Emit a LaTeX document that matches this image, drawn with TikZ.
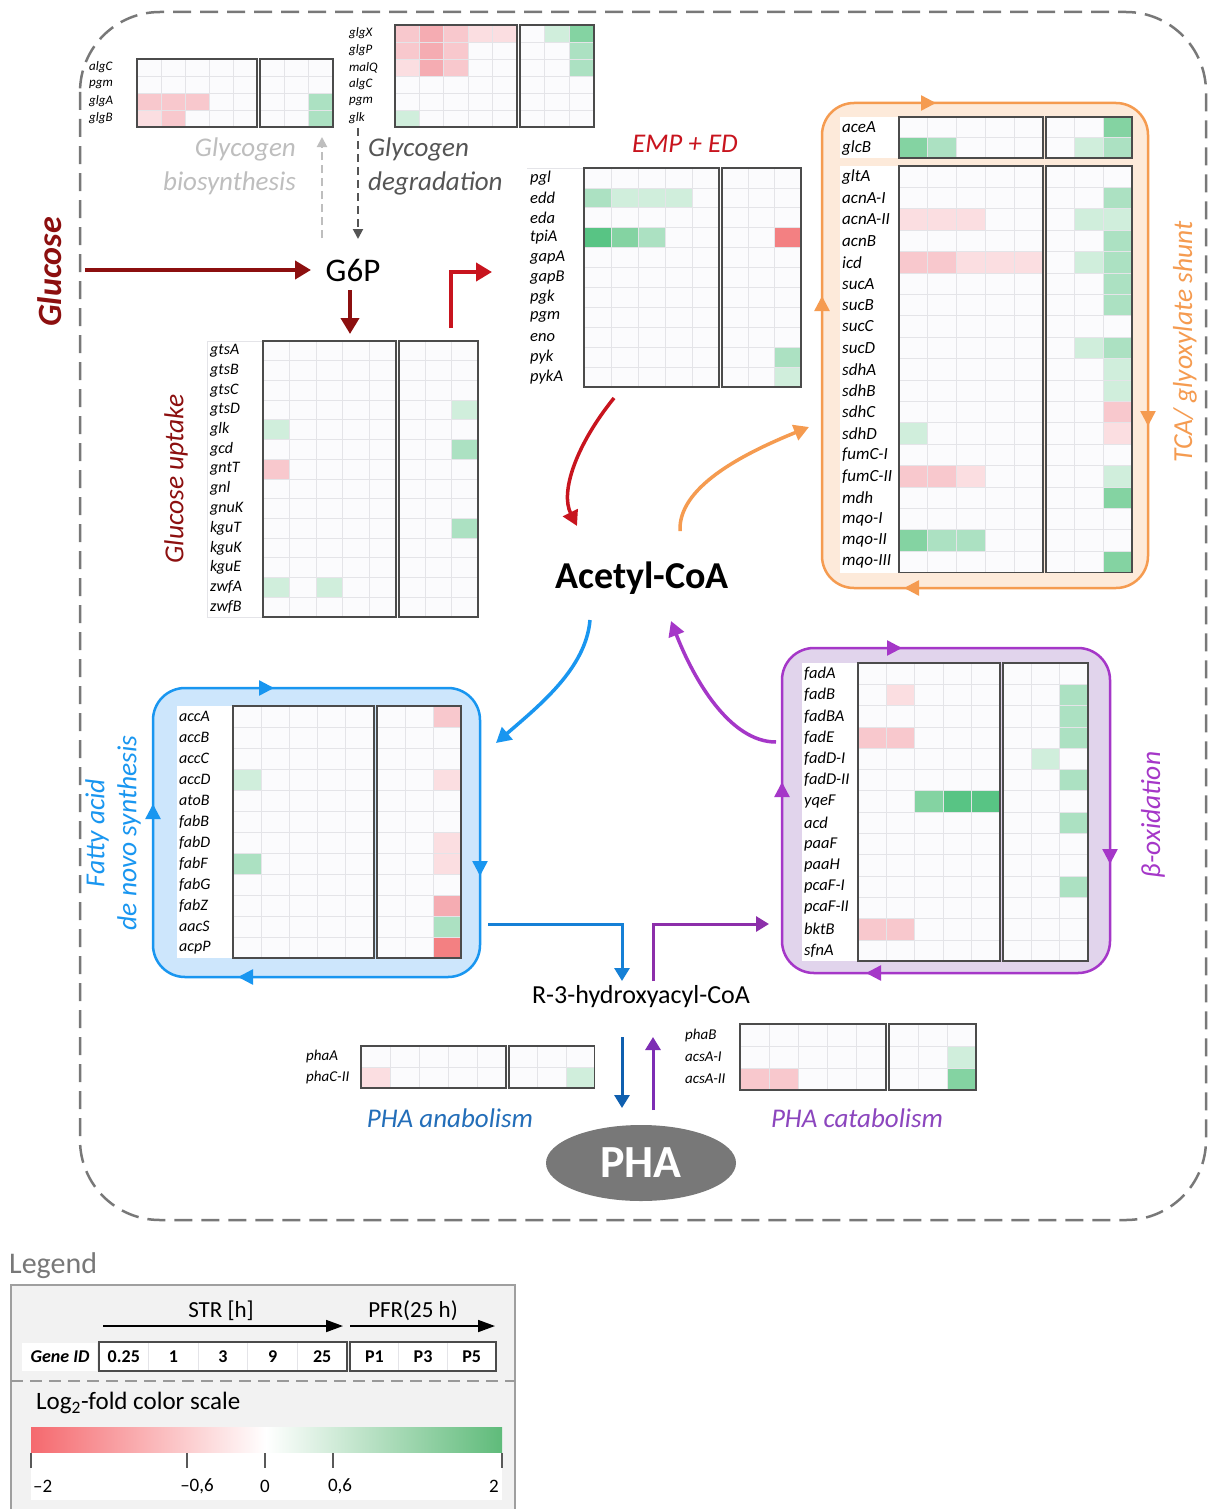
\documentclass[tikz,border=0pt]{standalone}
\usepackage{fontspec}
\setmainfont{Carlito}
\usetikzlibrary{arrows.meta,shapes.geometric}

\definecolor{W}{RGB}{251,251,253}
\definecolor{R1}{RGB}{251,222,225}
\definecolor{R2}{RGB}{248,200,205}
\definecolor{R3}{RGB}{245,172,178}
\definecolor{R4}{RGB}{243,128,130}
\definecolor{G1}{RGB}{208,238,220}
\definecolor{G2}{RGB}{172,225,194}
\definecolor{G3}{RGB}{132,211,162}
\definecolor{G4}{RGB}{88,196,132}
\definecolor{gridc}{RGB}{228,228,232}
\definecolor{bordc}{RGB}{75,75,75}
\definecolor{darkredC}{RGB}{140,15,15}
\definecolor{empred}{RGB}{200,20,30}
\definecolor{orangeC}{RGB}{245,155,80}
\definecolor{orangeF}{RGB}{253,234,218}
\definecolor{blueC}{RGB}{25,150,240}
\definecolor{blueF}{RGB}{205,230,252}
\definecolor{purpleC}{RGB}{165,55,200}
\definecolor{purpleF}{RGB}{225,212,236}
\definecolor{anablue}{RGB}{15,95,175}
\definecolor{anatext}{RGB}{35,110,185}
\definecolor{catpurple}{RGB}{125,45,180}
\definecolor{cattext}{RGB}{140,70,190}
\definecolor{pathgray}{RGB}{120,120,120}
\definecolor{biogray}{RGB}{190,190,190}
\definecolor{deggray}{RGB}{85,85,85}
\definecolor{legbg}{RGB}{242,242,242}
\definecolor{scalered}{RGB}{245,105,110}
\definecolor{scalegreen}{RGB}{95,187,122}

\def\hfont{\fontsize{15}{15}\selectfont\itshape}

\tikzset{
  hcell/.style={draw=gridc, line width=0.8pt},
  hbord/.style={draw=bordc, line width=1.6pt},
  genelab/.style={font=\hfont, inner sep=0pt, anchor=west},
  pmark/.style={-{Triangle[length=15pt,width=15pt]}, line width=2.5pt},
  thickarr/.style={-{Triangle[length=16pt,width=18pt]}, line width=4pt},
  pathbox/.style={rounded corners=32pt, line width=2.5pt},
  rottitle/.style={rotate=90, font=\fontsize{27.5}{27.5}\selectfont\itshape, inner sep=0pt},
  headtitle/.style={font=\fontsize{27}{27}\selectfont\itshape, inner sep=0pt},
}

% #1 name, #2 x0, #3 y0, #4 left cell width, #5 right cell width, #6 row height, #7 rows, #8 label x, #9 data
\newcommand{\hmap}[9]{%
  \foreach \lab/\qa/\qb/\qc/\qd/\qe/\qf/\qg/\qh [count=\i] in {#9}{%
    \pgfmathsetmacro{\yy}{#3+(\i-1)*#6}%
    \foreach \qq [count=\j] in {\qa,\qb,\qc,\qd,\qe}{%
      \path[hcell,fill=\qq] ({#2+(\j-1)*#4},\yy) rectangle ++(#4,#6);}%
    \foreach \qq [count=\j] in {\qf,\qg,\qh}{%
      \path[hcell,fill=\qq] ({#2+5*#4+3+(\j-1)*#5},\yy) rectangle ++(#5,#6);}%
    \node[genelab] (#1-\i) at (#8,{\yy+#6/2}) {\lab};
  }%
  \draw[hbord] (#2,#3) rectangle ++({5*#4},{#7*#6});
  \draw[hbord] ({#2+5*#4+3},#3) rectangle ++({3*#5},{#7*#6});
}

\begin{document}
\begin{tikzpicture}[x=1pt,y=-1pt]
\useasboundingbox (0,0) rectangle (1207,1509);
\fill[white] (0,0) rectangle (1207,1509);

% cell border
\draw[pathgray, line width=2.5pt, dash pattern=on 18pt off 9pt, rounded corners=80pt] (80,12) rectangle (1206,1220);

% pathway boxes
\draw[pathbox, draw=orangeC, fill=orangeF] (822,103) rectangle (1148,588);
\draw[pathbox, draw=blueC, fill=blueF] (153,688) rectangle (480,977);
\draw[pathbox, draw=purpleC, fill=purpleF] (782,648) rectangle (1110,973);

\draw[pmark, orangeC] (922,103) -- (936,103);
\draw[pmark, orangeC] (822,310) -- (822,296);
\draw[pmark, orangeC] (1148,412) -- (1148,426);
\draw[pmark, orangeC] (918,588) -- (904,588);
\draw[pmark, blueC] (260,688) -- (274,688);
\draw[pmark, blueC] (153,818) -- (153,804);
\draw[pmark, blueC] (480,862) -- (480,876);
\draw[pmark, blueC] (252,977) -- (238,977);
\draw[pmark, purpleC] (888,648) -- (902,648);
\draw[pmark, purpleC] (782,796) -- (782,782);
\draw[pmark, purpleC] (1110,850) -- (1110,864);
\draw[pmark, purpleC] (880,973) -- (866,973);

% label backgrounds
\fill[white] (527,168) rectangle (584,387);
\draw[gridc, line width=1pt] (527,168) -- (584,168);
\draw[fill=white, draw=gridc] (207,341) rectangle (263,617);
\fill[white] (840,117) rectangle (899,158);
\fill[white] (840,166) rectangle (899,573);
\fill[white] (177,706) rectangle (233,958);
\fill[white] (802,663) rectangle (858,961);

% heatmaps
\def\hfont{\fontsize{13}{13}\selectfont\itshape}
\hmap{gb}{137}{59}{24}{24.3}{17}{4}{89}{
algC/W/W/W/W/W/W/W/W, pgm/W/W/W/W/W/W/W/W,
glgA/R2/R2/R2/W/W/W/W/G2, glgB/R1/R2/W/W/W/W/W/G2}
\hmap{gd}{395}{25}{24.4}{24.7}{17}{6}{349}{
glgX/R2/R3/R2/R1/R1/W/G1/G3, glgP/R2/R3/R2/W/W/W/W/G2,
malQ/R1/R3/R2/W/W/W/W/G2, algC/W/W/W/W/W/W/W/W,
pgm/W/W/W/W/W/W/W/W, glk/G1/W/W/W/W/W/W/W}

\def\hfont{\fontsize{16.5}{16.5}\selectfont\itshape}
\hmap{emp}{584}{168}{27}{26.3}{19.9}{11}{530}{
pgl/W/W/W/W/W/W/W/W, edd/G2/G1/G1/G1/W/W/W/W, eda/W/W/W/W/W/W/W/W,
tpiA/G4/G3/G2/W/W/W/W/R4, gapA/W/W/W/W/W/W/W/W, gapB/W/W/W/W/W/W/W/W,
pgk/W/W/W/W/W/W/W/W, pgm/W/W/W/W/W/W/W/W, eno/W/W/W/W/W/W/W/W,
pyk/W/W/W/W/W/W/W/G2, pykA/W/W/W/W/W/W/W/G1}

\def\hfont{\fontsize{17}{17}\selectfont\itshape}
\hmap{tca1}{899}{117}{28.8}{28.7}{20.5}{2}{842}{
aceA/W/W/W/W/W/W/W/G3, glcB/G3/G2/W/W/W/W/G1/G2}
\hmap{tca2}{899}{166}{28.8}{28.7}{21.4}{19}{842}{
gltA/W/W/W/W/W/W/W/W, acnA-I/W/W/W/W/W/W/W/G2, acnA-II/R1/R1/R1/W/W/W/G1/G1,
acnB/W/W/W/W/W/W/W/G2, icd/R2/R2/R1/R1/R1/W/G1/G2, sucA/W/W/W/W/W/W/W/G2,
sucB/W/W/W/W/W/W/W/G2, sucC/W/W/W/W/W/W/W/W, sucD/W/W/W/W/W/W/G1/G2,
sdhA/W/W/W/W/W/W/W/G1, sdhB/W/W/W/W/W/W/W/G1, sdhC/W/W/W/W/W/W/W/R2,
sdhD/G1/W/W/W/W/W/W/R1, fumC-I/W/W/W/W/W/W/W/W, fumC-II/R2/R2/R1/W/W/W/W/G1,
mdh/W/W/W/W/W/W/W/G3, mqo-I/W/W/W/W/W/W/W/W, mqo-II/G3/G2/G2/W/W/W/W/W,
mqo-III/W/W/W/W/W/W/W/G3}

\def\hfont{\fontsize{16}{16}\selectfont\itshape}
\hmap{gu}{263}{341}{26.6}{26.3}{19.7}{14}{210}{
gtsA/W/W/W/W/W/W/W/W, gtsB/W/W/W/W/W/W/W/W, gtsC/W/W/W/W/W/W/W/W,
gtsD/W/W/W/W/W/W/W/G1, glk/G1/W/W/W/W/W/W/W, gcd/W/W/W/W/W/W/W/G2,
gntT/R2/W/W/W/W/W/W/W, gnl/W/W/W/W/W/W/W/W, gnuK/W/W/W/W/W/W/W/W,
kguT/W/W/W/W/W/W/W/G2, kguK/W/W/W/W/W/W/W/W, kguE/W/W/W/W/W/W/W/W,
zwfA/G1/W/G1/W/W/W/W/W, zwfB/W/W/W/W/W/W/W/W}

\hmap{fa}{233}{706}{28.2}{28}{21}{12}{179}{
accA/W/W/W/W/W/W/W/R2, accB/W/W/W/W/W/W/W/W, accC/W/W/W/W/W/W/W/W,
accD/G1/W/W/W/W/W/W/R1, atoB/W/W/W/W/W/W/W/W, fabB/W/W/W/W/W/W/W/W,
fabD/W/W/W/W/W/W/W/R1, fabF/G2/W/W/W/W/W/W/R1, fabG/W/W/W/W/W/W/W/W,
fabZ/W/W/W/W/W/W/W/R3, aacS/W/W/W/W/W/W/W/G2, acpP/W/W/W/W/W/W/W/R4}

\def\hfont{\fontsize{16.5}{16.5}\selectfont\itshape}
\hmap{bo}{858}{663}{28.4}{28.3}{21.3}{14}{804}{
fadA/W/W/W/W/W/W/W/W, fadB/W/R1/W/W/W/W/W/G2, fadBA/W/W/W/W/W/W/W/G2,
fadE/R2/R2/W/W/W/W/W/G2, fadD-I/W/W/W/W/W/W/G1/W, fadD-II/W/W/W/W/W/W/W/G2,
yqeF/W/W/G3/G4/G4/W/W/W, acd/W/W/W/W/W/W/W/G2, paaF/W/W/W/W/W/W/W/W,
paaH/W/W/W/W/W/W/W/W, pcaF-I/W/W/W/W/W/W/W/G2, pcaF-II/W/W/W/W/W/W/W/W,
bktB/R2/R2/W/W/W/W/W/W, sfnA/W/W/W/W/W/W/W/W}

\def\hfont{\fontsize{15}{15}\selectfont\itshape}
\hmap{pa}{361}{1046}{29}{28.5}{21}{2}{306}{
phaA/W/W/W/W/W/W/W/W, phaC-II/R1/W/W/W/W/W/W/G1}
\hmap{pc}{740}{1024}{29.2}{29}{22}{3}{685}{
phaB/W/W/W/W/W/W/W/W, acsA-I/W/W/W/W/W/W/W/G1, acsA-II/R2/R2/W/W/W/W/W/G3}

% titles
\node[headtitle, text=biogray, anchor=east] (tbio1) at (296,149) {Glycogen};
\node[headtitle, text=biogray, anchor=east] (tbio2) at (296,183) {biosynthesis};
\node[headtitle, text=deggray, anchor=west] (tdeg1) at (368,149) {Glycogen};
\node[headtitle, text=deggray, anchor=west] (tdeg2) at (368,183) {degradation};
\node[headtitle, text=empred] (temp) at (685,144) {EMP + ED};
\node[rottitle, text=orangeC] (ttca) at (1185,342) {TCA/ glyoxylate shunt};
\node[rottitle, text=darkredC] (tgu) at (176,479) {Glucose uptake};
\node[rottitle, text=blueC] (tfa1) at (97,833) {Fatty acid};
\node[rottitle, text=blueC] (tfa2) at (129,833) {de novo synthesis};
\node[rottitle, text=purpleC] (tbo) at (1153,815) {β-oxidation};
\node[headtitle, text=anatext] (tana) at (450,1118) {PHA anabolism};
\node[headtitle, text=cattext] (tcat) at (857,1118) {PHA catabolism};
\node[rotate=90, font=\fontsize{34}{34}\selectfont\bfseries\itshape, text=darkredC, inner sep=0pt] (tglc) at (50,272) {Glucose};

% metabolites
\node[font=\fontsize{33}{33}\selectfont, inner sep=0pt] (g6p) at (353,270) {G6P};
\node[font=\fontsize{38}{38}\selectfont\bfseries, inner sep=0pt] (acoa) at (642,578) {Acetyl-CoA};
\node[font=\fontsize{26}{26}\selectfont, inner sep=0pt] (r3h) at (641,997) {R-3-hydroxyacyl-CoA};
\node[ellipse, fill=pathgray, minimum width=190pt, minimum height=76pt, inner sep=0pt,
      text=white, font=\fontsize{46}{46}\selectfont\bfseries] (pha) at (641,1163) {PHA};

% connector end points
\path (85,270) coordinate (glcS) (311,270) coordinate (glcE)
      (350,290) coordinate (g6pD1) (350,334) coordinate (g6pD2)
      (451,328) coordinate (empS) (451,272) coordinate (empK) (492,272) coordinate (empE)
      (358,128) coordinate (degS) (358,239) coordinate (degE)
      (322,238) coordinate (bioS) (322,137) coordinate (bioE)
      (614,398) coordinate (redS) (577,526) coordinate (redE)
      (680,531) coordinate (orS) (809,427) coordinate (orE)
      (590,620) coordinate (blS) (496,743) coordinate (blE)
      (776,742) coordinate (puS) (671,621) coordinate (puE)
      (488,924) coordinate (faS) (622,924) coordinate (faK) (622,981) coordinate (faE)
      (653,981) coordinate (boS) (653,924) coordinate (boK) (769,924) coordinate (boE)
      (622,1037) coordinate (anS) (622,1108) coordinate (anE)
      (653,1110) coordinate (caS) (653,1037) coordinate (caE);

\draw[thickarr, darkredC] (glcS) -- (glcE);
\draw[thickarr, darkredC] (g6pD1) -- (g6pD2);
\draw[thickarr, empred] (empS) -- (empK) -- (empE);
\draw[deggray, line width=2pt, dash pattern=on 8pt off 5pt, -{Triangle[length=10pt,width=10pt]}] (degS) -- (degE);
\draw[biogray, line width=2pt, dash pattern=on 8pt off 5pt, -{Triangle[length=10pt,width=10pt]}] (bioS) -- (bioE);
\draw[empred, line width=3.5pt, -{Triangle[length=15pt,width=16pt]}] (redS) .. controls (576,445) and (560,492) .. (redE);
\draw[orangeC, line width=3.5pt, -{Triangle[length=15pt,width=16pt]}] (orS) .. controls (678,488) and (740,455) .. (orE);
\draw[blueC, line width=3.5pt, -{Triangle[length=15pt,width=16pt]}] (blS) .. controls (586,668) and (540,705) .. (blE);
\draw[purpleC, line width=3.5pt, -{Triangle[length=15pt,width=16pt]}] (puS) .. controls (730,742) and (694,680) .. (puE);
\draw[blueC!60!anablue, line width=3pt, -{Triangle[length=13pt,width=15pt]}] (faS) -- (faK) -- (faE);
\draw[purpleC!85!black, line width=3pt, -{Triangle[length=13pt,width=15pt]}] (boS) -- (boK) -- (boE);
\draw[anablue, line width=3pt, -{Triangle[length=13pt,width=15pt]}] (anS) -- (anE);
\draw[catpurple, line width=3pt, -{Triangle[length=13pt,width=15pt]}] (caS) -- (caE);

% legend
\node[font=\fontsize{30}{30}\selectfont, text=pathgray, anchor=west, inner sep=0pt] (tleg) at (9,1266) {Legend};
\draw[fill=legbg, draw=gray!75, line width=2pt] (11,1285) rectangle (515,1520);
\node[font=\fontsize{23}{23}\selectfont, inner sep=0pt] (tstr) at (221,1311) {STR [h]};
\node[font=\fontsize{23}{23}\selectfont, inner sep=0pt] (tpfr) at (413,1311) {PFR(25 h)};
\path (103,1326) coordinate (strS) (343,1326) coordinate (strE) (350,1326) coordinate (pfrS) (495,1326) coordinate (pfrE);
\draw[line width=1.8pt, -{Triangle[length=17pt,width=12pt]}] (strS) -- (strE);
\draw[line width=1.8pt, -{Triangle[length=17pt,width=12pt]}] (pfrS) -- (pfrE);
\fill[white] (22,1343) rectangle (97,1371);
\node[font=\fontsize{18}{18}\selectfont\bfseries\itshape, inner sep=0pt] (tgid) at (60,1357) {Gene ID};
\foreach \t [count=\k] in {0.25,1,3,9,25}{
  \path[hcell, fill=white] ({99+(\k-1)*49.6},1342) rectangle ++(49.6,29);
  \node[font=\fontsize{18}{18}\selectfont\bfseries, inner sep=0pt] (lt\k) at ({99+(\k-0.5)*49.6},1357) {\t};
}
\foreach \t [count=\k] in {P1,P3,P5}{
  \path[hcell, fill=white] ({350+(\k-1)*48.7},1342) rectangle ++(48.7,29);
  \node[font=\fontsize{18}{18}\selectfont\bfseries, inner sep=0pt] (lp\k) at ({350+(\k-0.5)*48.7},1357) {\t};
}
\draw[hbord] (99,1342) rectangle (347,1371);
\draw[hbord] (350,1342) rectangle (496,1371);
\draw[gray!80, line width=1.5pt, dash pattern=on 12pt off 7pt] (11,1381) -- (515,1381);
\node[font=\fontsize{25}{25}\selectfont, anchor=west, inner sep=0pt] (tlog) at (36,1403) {Log\textsubscript{2}-fold color scale};
\shade[left color=scalered, right color=white] (31,1427) rectangle (266,1453);
\shade[left color=white, right color=scalegreen] (266,1427) rectangle (502,1453);
\fill[white] (31,1453) rectangle (502,1500);
\foreach \x in {31,187,265,333,502}{ \draw[gray!70!black, line width=1.5pt] (\x,1453) -- (\x,1468); }
\node[font=\fontsize{19}{19}\selectfont, anchor=west, inner sep=0pt] (s1) at (33,1486) {–2};
\node[font=\fontsize{19}{19}\selectfont, inner sep=0pt] (s2) at (197,1486) {–0,6};
\node[font=\fontsize{19}{19}\selectfont, inner sep=0pt] (s3) at (265,1486) {0};
\node[font=\fontsize{19}{19}\selectfont, inner sep=0pt] (s4) at (340,1486) {0,6};
\node[font=\fontsize{19}{19}\selectfont, anchor=east, inner sep=0pt] (s5) at (499,1486) {2};
\end{tikzpicture}
\end{document}
